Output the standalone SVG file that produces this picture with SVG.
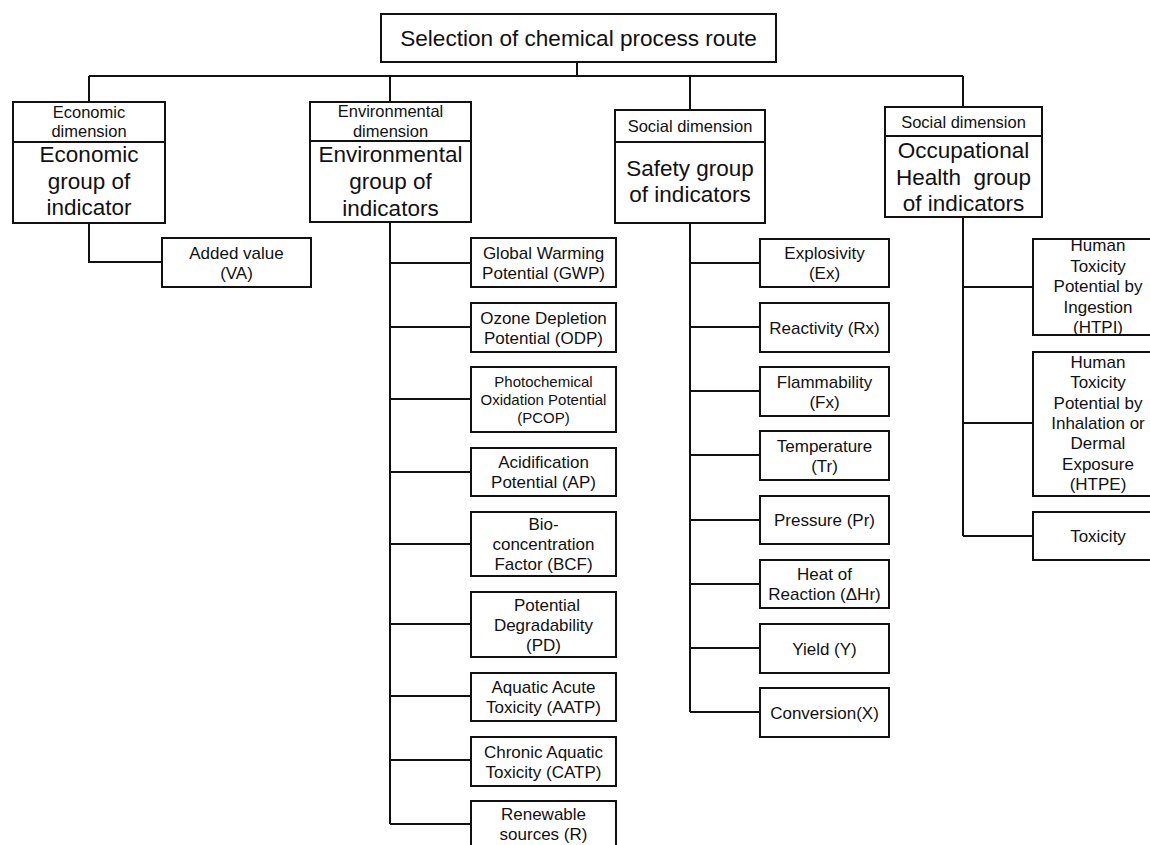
<svg xmlns="http://www.w3.org/2000/svg" width="1150" height="845" viewBox="0 0 1150 845">
<style>
  .box { fill: #fff; stroke: #111; stroke-width: 2; }
  .ln { fill: none; stroke: #111; stroke-width: 2; }
  text { font-family: "Liberation Sans", Arial, sans-serif; fill: #111; text-anchor: middle; }
  .t { font-size: 17px; }
  .s { font-size: 15px; }
  .h { font-size: 16.5px; }
  .g { font-size: 22.5px; }
  .title { font-size: 22.6px; }
</style>
<rect width="1150" height="845" fill="#fff"/>

<g id="connectors">
  <path class="ln" d="M577 62 V76 M89 76 H963 M89 76 V102 M390 76 V102 M690 76 V110 M963 76 V107"/>
  <path class="ln" d="M89 223 V262 H162"/>
  <path class="ln" d="M390 222 V824 M390 263 H471 M390 327 H471 M390 399 H471 M390 472 H471 M390 544 H471 M390 624 H471 M390 696 H471 M390 760 H471 M390 824 H471"/>
  <path class="ln" d="M690 223 V712 M690 263 H760 M690 327 H760 M690 391 H760 M690 455 H760 M690 520 H760 M690 584 H760 M690 648 H760 M690 712 H760"/>
  <path class="ln" d="M963 217 V536 M963 287 H1033 M963 423 H1033 M963 536 H1033"/>
</g>

<g id="root">
  <rect class="box" x="381" y="14" width="395" height="48"/>
  <text class="title" x="578.5" y="46">Selection of chemical process route</text>
</g>

<g id="economic">
  <rect class="box" x="13" y="102" width="152" height="121"/>
  <line class="ln" x1="13" y1="142" x2="165" y2="142"/>
  <text class="h" x="89" y="118">Economic</text>
  <text class="h" x="89" y="137">dimension</text>
  <text class="g" x="89" y="162">Economic</text>
  <text class="g" x="89" y="189">group of</text>
  <text class="g" x="89" y="215">indicator</text>
</g>
<g id="va">
  <rect class="box" x="162" y="238" width="149" height="49"/>
  <text class="t" x="236.5" y="258.5">Added value</text>
  <text class="t" x="236.5" y="278.5">(VA)</text>
</g>

<g id="environmental">
  <rect class="box" x="310" y="102" width="161" height="120"/>
  <line class="ln" x1="310" y1="141" x2="471" y2="141"/>
  <text class="h" x="390.5" y="117">Environmental</text>
  <text class="h" x="390.5" y="137">dimension</text>
  <text class="g" x="390.5" y="162">Environmental</text>
  <text class="g" x="390.5" y="189">group of</text>
  <text class="g" x="390.5" y="216">indicators</text>
</g>
<g id="gwp">
  <rect class="box" x="471" y="238" width="145" height="49"/>
  <text class="t" x="543.5" y="258.5">Global Warming</text>
  <text class="t" x="543.5" y="278.5">Potential (GWP)</text>
</g>
<g id="odp">
  <rect class="box" x="471" y="303" width="145" height="49"/>
  <text class="t" x="543.5" y="323.5">Ozone Depletion</text>
  <text class="t" x="543.5" y="343.5">Potential (ODP)</text>
</g>
<g id="pcop">
  <rect class="box" x="471" y="367" width="145" height="65"/>
  <text class="s" x="543.5" y="387">Photochemical</text>
  <text class="s" x="543.5" y="405">Oxidation Potential</text>
  <text class="s" x="543.5" y="423">(PCOP)</text>
</g>
<g id="ap">
  <rect class="box" x="471" y="448" width="145" height="48"/>
  <text class="t" x="543.5" y="468">Acidification</text>
  <text class="t" x="543.5" y="488">Potential (AP)</text>
</g>
<g id="bcf">
  <rect class="box" x="471" y="512" width="145" height="64"/>
  <text class="t" x="543.5" y="530">Bio-</text>
  <text class="t" x="543.5" y="550">concentration</text>
  <text class="t" x="543.5" y="570">Factor (BCF)</text>
</g>
<g id="pd">
  <rect class="box" x="471" y="592" width="145" height="65"/>
  <text class="t" x="547" y="610.5">Potential</text>
  <text class="t" x="543.5" y="630.5">Degradability</text>
  <text class="t" x="543.5" y="650.5">(PD)</text>
</g>
<g id="aatp">
  <rect class="box" x="471" y="673" width="145" height="48"/>
  <text class="t" x="543.5" y="693">Aquatic Acute</text>
  <text class="t" x="543.5" y="713">Toxicity (AATP)</text>
</g>
<g id="catp">
  <rect class="box" x="471" y="737" width="145" height="49"/>
  <text class="t" x="543.5" y="757.5">Chronic Aquatic</text>
  <text class="t" x="543.5" y="777.5">Toxicity (CATP)</text>
</g>
<g id="r">
  <rect class="box" x="471" y="801" width="145" height="48"/>
  <text class="t" x="543.5" y="820">Renewable</text>
  <text class="t" x="543.5" y="840">sources (R)</text>
</g>

<g id="safety">
  <rect class="box" x="615" y="110" width="150" height="113"/>
  <line class="ln" x1="615" y1="142" x2="765" y2="142"/>
  <text class="h" x="690" y="132">Social dimension</text>
  <text class="g" x="690" y="176">Safety group</text>
  <text class="g" x="690" y="202">of indicators</text>
</g>
<g id="ex">
  <rect class="box" x="760" y="239" width="129" height="48"/>
  <text class="t" x="824.5" y="259">Explosivity</text>
  <text class="t" x="824.5" y="279">(Ex)</text>
</g>
<g id="rx">
  <rect class="box" x="760" y="303" width="129" height="49"/>
  <text class="t" x="824.5" y="333.5">Reactivity (Rx)</text>
</g>
<g id="fx">
  <rect class="box" x="760" y="367" width="129" height="49"/>
  <text class="t" x="824.5" y="387.5">Flammability</text>
  <text class="t" x="824.5" y="407.5">(Fx)</text>
</g>
<g id="tr">
  <rect class="box" x="760" y="431" width="129" height="49"/>
  <text class="t" x="824.5" y="451.5">Temperature</text>
  <text class="t" x="824.5" y="471.5">(Tr)</text>
</g>
<g id="pr">
  <rect class="box" x="760" y="496" width="129" height="48"/>
  <text class="t" x="824.5" y="526">Pressure (Pr)</text>
</g>
<g id="hr">
  <rect class="box" x="760" y="560" width="129" height="48"/>
  <text class="t" x="824.5" y="580">Heat of</text>
  <text class="t" x="824.5" y="600">Reaction (ΔHr)</text>
</g>
<g id="y">
  <rect class="box" x="760" y="624" width="129" height="49"/>
  <text class="t" x="824.5" y="654.5">Yield (Y)</text>
</g>
<g id="x">
  <rect class="box" x="760" y="688" width="129" height="49"/>
  <text class="t" x="824.5" y="718.5">Conversion(X)</text>
</g>

<g id="health">
  <rect class="box" x="885" y="107" width="157" height="110"/>
  <line class="ln" x1="885" y1="136" x2="1042" y2="136"/>
  <text class="h" x="963.5" y="128">Social dimension</text>
  <text class="g" x="963.5" y="158">Occupational</text>
  <text class="g" x="963.5" y="184.5">Health&#160; group</text>
  <text class="g" x="963.5" y="211">of indicators</text>
</g>
<g id="htpi">
  <rect class="box" x="1033" y="239" width="132" height="96"/>
  <text class="t" x="1098" y="251">Human</text>
  <text class="t" x="1098" y="271.5">Toxicity</text>
  <text class="t" x="1098" y="292">Potential by</text>
  <text class="t" x="1098" y="312.5">Ingestion</text>
  <text class="t" x="1098" y="333">(HTPI)</text>
</g>
<g id="htpe">
  <rect class="box" x="1033" y="352" width="132" height="144"/>
  <text class="t" x="1098" y="368">Human</text>
  <text class="t" x="1098" y="388.3">Toxicity</text>
  <text class="t" x="1098" y="408.6">Potential by</text>
  <text class="t" x="1098" y="428.9">Inhalation or</text>
  <text class="t" x="1098" y="449.2">Dermal</text>
  <text class="t" x="1098" y="469.5">Exposure</text>
  <text class="t" x="1098" y="489.8">(HTPE)</text>
</g>
<g id="toxicity">
  <rect class="box" x="1033" y="512" width="132" height="48"/>
  <text class="t" x="1098" y="542">Toxicity</text>
</g>
</svg>
